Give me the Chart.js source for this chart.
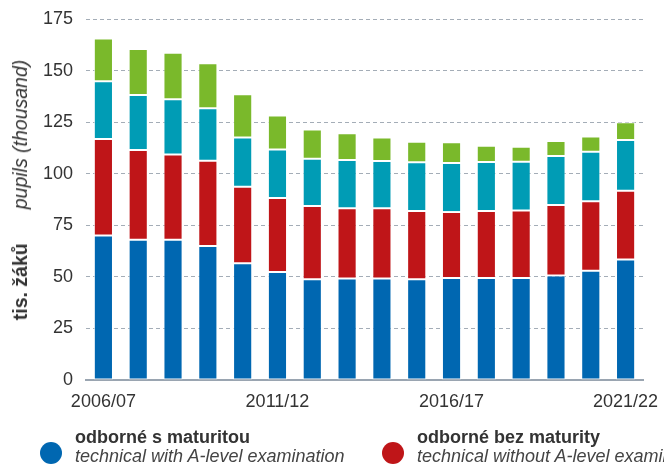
<!DOCTYPE html>
<html>
<head>
<meta charset="utf-8">
<script src="https://cdn.jsdelivr.net/npm/chart.js@4/dist/chart.umd.min.js"></script>
<style>
    html, body { margin: 0; padding: 0; background: #fff; }
    body {
        width: 664px; height: 468px; overflow: hidden; position: relative;
        font-family: "Liberation Sans", Arial, sans-serif; color: #333;
    }
    #chartBox { position: absolute; left: 0; top: 0; width: 664px; height: 468px; }
    .y-title {
        position: absolute; left: 20px; top: 190px;
        transform: translate(-50%, -50%) rotate(-90deg);
        white-space: nowrap; font-size: 19.5px; line-height: 20px;
    }
    .y-title b { font-weight: bold; }
    .y-title i { margin-left: 34px; }
    .legend { position: absolute; left: 0; top: 428px; width: 664px; height: 40px; overflow: hidden; }
    .legend-item { position: absolute; top: 0; white-space: nowrap; }
    .legend-dot { position: absolute; top: 14px; width: 22px; height: 22px; border-radius: 50%; }
    .legend-text { position: absolute; top: 0; font-size: 18px; line-height: 19px; }
    .legend-text b { display: block; color: #333; }
    .legend-text i { display: block; color: #444; }
</style>
</head>
<body>
<div id="chartBox"><canvas id="chart" width="664" height="468"></canvas></div>
<div class="y-title"><b>tis. žáků</b><i>pupils (thousand)</i></div>
<div class="legend" id="legend"></div>
<script>
// Školní roky
const years = [
    '2006/07', '2007/08', '2008/09', '2009/10', '2010/11', '2011/12', '2012/13', '2013/14',
    '2014/15', '2015/16', '2016/17', '2017/18', '2018/19', '2019/20', '2020/21', '2021/22'
];

// Počty žáků (tis.)
const withALevel = [70, 68, 68, 65, 56.6, 52.3, 48.9, 49.2, 49.2, 48.9, 49.4, 49.4, 49.5, 50.6, 52.9, 58.4];
const withoutALevel = [46.8, 43.5, 41.3, 41.3, 37.1, 35.9, 35.4, 34.1, 34.1, 33, 32, 32.5, 32.7, 34.2, 33.8, 33.3];
const generalSchools = [28, 26.7, 26.8, 25.4, 23.8, 23.5, 23, 23.3, 22.9, 23.6, 23.8, 23.8, 23.6, 23.8, 24, 24.6];
const followUp = [20.7, 22.3, 22.5, 21.8, 21, 16.5, 14.1, 13, 11.3, 10, 10, 7.9, 7.3, 7.3, 7.4, 8.6];

const yTicks = [0, 25, 50, 75, 100, 125, 150, 175];

const seriesNames = ['odborné s maturitou', 'odborné bez maturity', 'gymnázia', 'nástavbové studium'];
const seriesNamesEn = ['technical with A-level examination', 'technical without A-level examination', 'general', 'follow-up courses'];
const seriesColors = ['#0067b1', '#bf1518', '#009cb5', '#7ab92b'];
const seriesValues = [withALevel, withoutALevel, generalSchools, followUp];

const gridColor = '#a4adb7';

const datasets = seriesValues.map((values, i) => ({
    label: seriesNames[i],
    data: values,
    backgroundColor: seriesColors[i],
    borderColor: 'rgba(255,255,255,0.75)',
    borderWidth: 1,
    borderSkipped: false,
    categoryPercentage: 1,
    barPercentage: 0.55
}));

new Chart(document.getElementById('chart'), {
    type: 'bar',
    data: { labels: years, datasets: datasets },
    options: {
        responsive: false,
        animation: false,
        layout: { padding: { left: 30, right: 21, top: 19, bottom: 48 } },
        plugins: { legend: { display: false }, tooltip: { enabled: false }, title: { display: false } },
        scales: {
            x: {
                stacked: true,
                grid: { display: false, drawTicks: false },
                border: { display: true, color: '#9aa5b1', width: 2 },
                ticks: {
                    autoSkip: false,
                    maxRotation: 0,
                    padding: 11,
                    color: '#333',
                    font: { family: '"Liberation Sans", Arial, sans-serif', size: 18 },
                    callback: function (value, index) {
                        return index % 5 === 0 ? years[index] : '';
                    }
                },
                afterFit: s => { s.height = 40; s.paddingLeft = 0; s.paddingRight = 0; }
            },
            y: {
                stacked: true,
                min: yTicks[0],
                max: yTicks[yTicks.length - 1],
                afterBuildTicks: s => { s.ticks = yTicks.map(v => ({ value: v })); },
                grid: {
                    drawTicks: false,
                    lineWidth: 1,
                    color: ctx => (ctx.tick && ctx.tick.value === 0) ? 'rgba(0,0,0,0)' : gridColor
                },
                border: { display: false, dash: [4, 3] },
                ticks: {
                    padding: 13,
                    color: '#333',
                    font: { family: '"Liberation Sans", Arial, sans-serif', size: 18 }
                },
                afterFit: s => { s.width = 56; s.paddingTop = 0; s.paddingBottom = 0; }
            }
        }
    }
});

// Legenda (jen první dvě položky se vejdou)
const legendBox = document.getElementById('legend');
const legendLeft = [40, 382];
legendLeft.forEach((left, i) => {
    const item = document.createElement('div');
    item.className = 'legend-item';
    item.style.left = left + 'px';
    item.innerHTML = `<span class="legend-dot" style="left:0;background:${seriesColors[i]}"></span>` +
        `<span class="legend-text" style="left:35px"><b>${seriesNames[i]}</b><i>${seriesNamesEn[i]}</i></span>`;
    legendBox.appendChild(item);
});
</script>
</body>
</html>
